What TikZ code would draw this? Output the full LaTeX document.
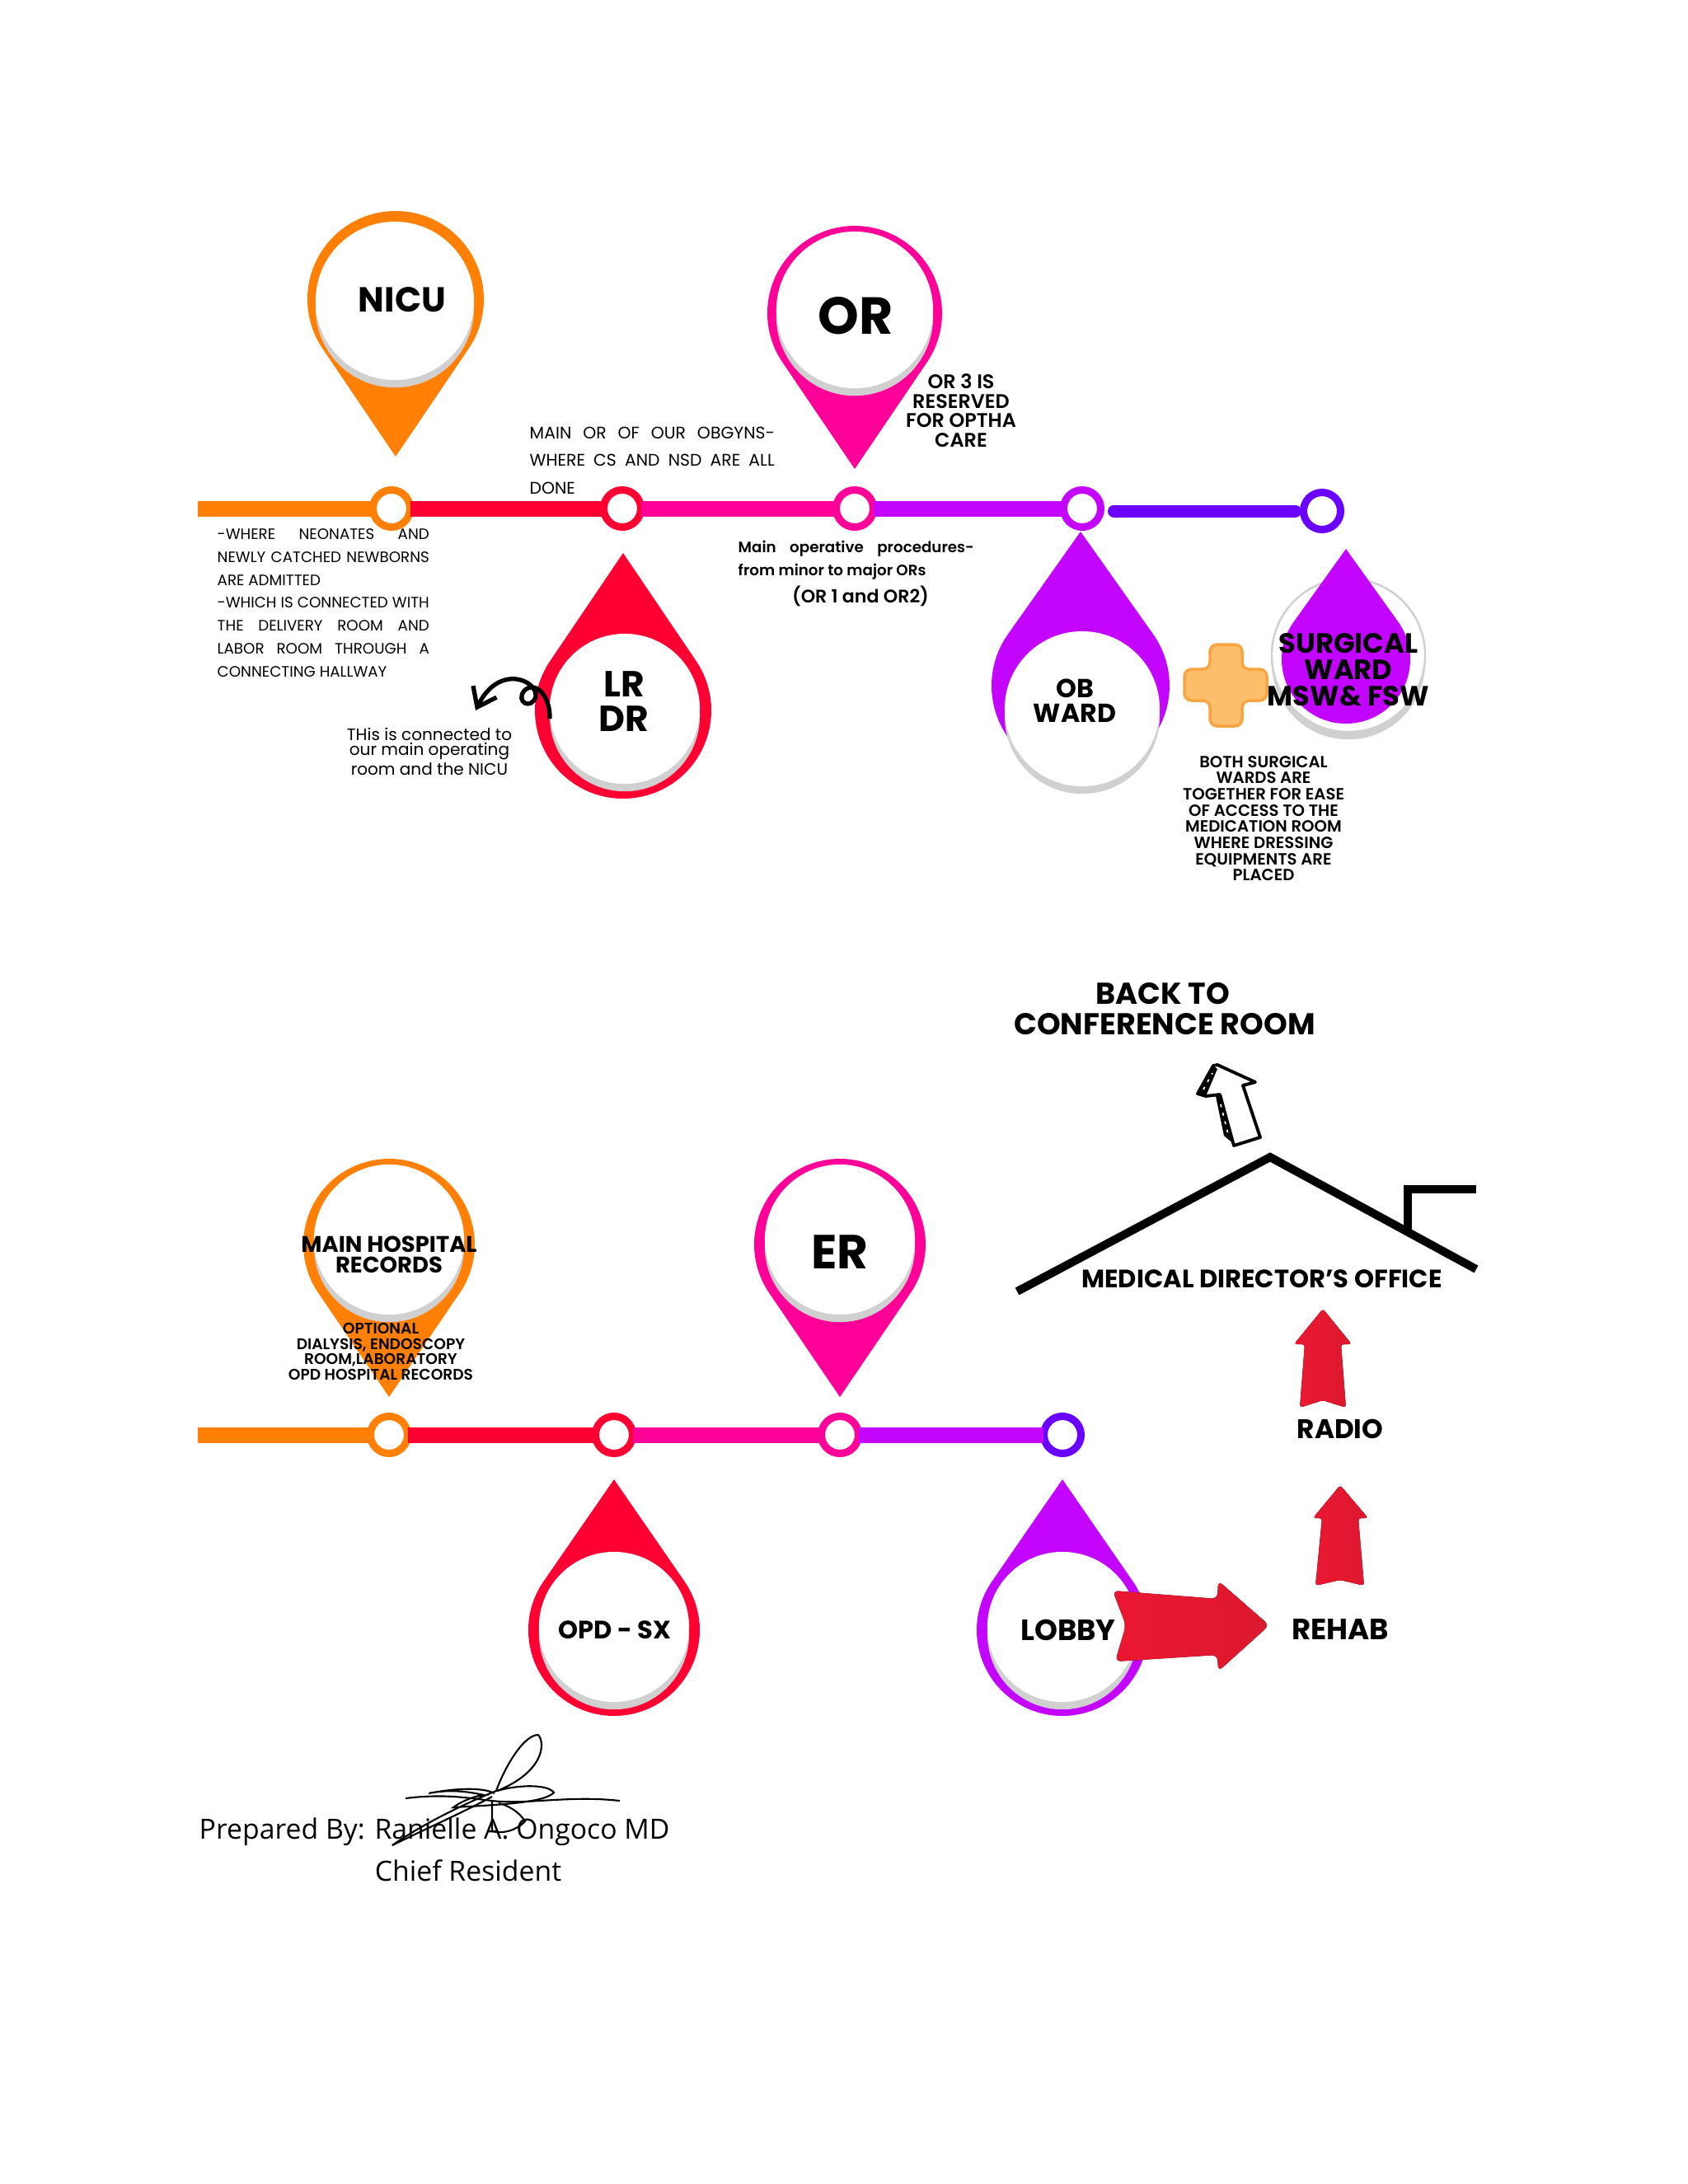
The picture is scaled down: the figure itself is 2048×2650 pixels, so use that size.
\documentclass[tikz,border=0pt]{standalone}
\usepackage{fontspec}
\usepackage{xcolor}
\usepackage{tikz}
\usetikzlibrary{arrows.meta, shadows}
\setmainfont{Poppins}
\newfontfamily\signfont{Open Sans}
\newfontfamily\semifont{Poppins SemiBold}
\definecolor{pinorange}{RGB}{255,128,5}
\definecolor{pinred}{RGB}{255,0,51}
\definecolor{pinmagenta}{RGB}{255,0,153}
\definecolor{pinpurple}{RGB}{195,5,255}
\definecolor{pinviolet}{RGB}{106,0,255}
\definecolor{facegrey}{RGB}{208,208,208}
\definecolor{arrowred}{RGB}{232,26,48}
\definecolor{crossfill}{RGB}{253,190,107}
\definecolor{crossline}{RGB}{248,165,65}
\newcommand{\boldsize}[2]{\fontsize{#1}{#2}\selectfont\bfseries}
\newcommand{\semisize}[2]{\fontsize{#1}{#2}\selectfont\semifont}
\newcommand{\plainsize}[2]{\fontsize{#1}{#2}\selectfont}
% cx, cy, radius, tip distance, direction of tip, colour
\newcommand{\pinshape}[6]{%
  \pgfmathsetmacro{\pinang}{acos(#3/#4)}
  \fill[#6] (#1,#2) ++(#5+\pinang:#3*0.01cm)
    arc[start angle=#5+\pinang, delta angle=360-2*\pinang, radius=#3*0.01cm]
    -- ([shift={(#5:#4*0.01cm)}]#1,#2) -- cycle;
}
\tikzset{
  ringnode/.style={circle, draw=#1, fill=white, line width=0.09cm,
    minimum size=0.45cm, inner sep=0pt, outer sep=0pt},
  track/.style={line width=0.19cm, color=#1},
  faceplate/.style={circle, fill=white, minimum size=#1*0.02cm, inner sep=0pt,
    drop shadow={shadow xshift=0pt, shadow yshift=-2.6pt, fill=facegrey, opacity=1}},
  pinlabel/.style={align=center, inner sep=0pt, text=black},
  notejust/.style={anchor=north west, align=justify, inner sep=0pt},
  redarrow/.style={left color=arrowred!90!pinred, right color=arrowred!95!black},
  roofline/.style={line width=0.1cm, color=black},
  signline/.style={line width=0.6pt, color=black}
}
\begin{document}
\begin{tikzpicture}[x=0.01cm, y=-0.01cm]
  \useasboundingbox (0,0) rectangle (2048,2650);

  % upper route
  \coordinate (tstart) at (240,617);
  \node[ringnode=pinorange] (t1) at (475,617) {};
  \node[ringnode=pinred] (t2) at (755,617) {};
  \node[ringnode=pinmagenta] (t3) at (1037,617) {};
  \node[ringnode=pinpurple] (t4) at (1313,617) {};
  \node[ringnode=pinviolet] (t5) at (1604,620) {};
  \draw[track=pinorange] (tstart) -- (t1);
  \draw[track=pinred] (t1) -- (t2);
  \draw[track=pinmagenta] (t2) -- (t3);
  \draw[track=pinpurple] (t3) -- (t4);
  \draw[track=pinviolet, line width=0.15cm, line cap=round] ([xshift=0.16cm]t4.east |- t5) -- ([xshift=-0.1cm]t5.west);

  \pinshape{480}{363}{107}{191}{-90}{pinorange}
  \node[faceplate=96] (nicuface) at (479,365) {};
  \node[pinlabel, font=\boldsize{12}{14}] (nicu) at (488,364) {NICU};

  \pinshape{1037}{380}{106}{189}{-90}{pinmagenta}
  \node[faceplate=95] (orface) at (1037,376) {};
  \node[pinlabel, font=\boldsize{18}{20}] (ortext) at (1038,383) {OR};

  \pinshape{756}{862}{107}{191}{90}{pinred}
  \node[faceplate=91] (lrface) at (758,860) {};
  \node[pinlabel, font=\boldsize{12.5}{12}] (lrdr) at (757,851) {LR\\DR};

  \pinshape{1311}{832}{108}{187}{90}{pinpurple}
  \node[faceplate=94] (obface) at (1313,860) {};
  \node[pinlabel, font=\boldsize{9}{8.6}] (obward) at (1304,850) {OB\\WARD};

  \node[faceplate=93, draw=facegrey, line width=0.7pt] (swface) at (1636,795) {};
  \pinshape{1633}{800}{78}{134}{90}{pinpurple}
  \node[pinlabel, font=\boldsize{9.6}{9.1}] (swtext) at (1636,813) {SURGICAL\\WARD\\MSW\& FSW};

  % plus sign between the wards
  \draw[fill=crossfill, draw=crossline, line width=1pt, rounded corners=2.5pt]
    (1468,782) -- (1468,812) -- (1437,812) -- (1437,850) -- (1468,850) -- (1468,881)
    -- (1507,881) -- (1507,850) -- (1537,850) -- (1537,812) -- (1507,812) -- (1507,782) -- cycle;

  \node[pinlabel, font=\semisize{6.8}{6.7}] (orthree) at (1166,498) {OR 3 IS\\RESERVED\\FOR OPTHA\\CARE};
  \node[notejust, text width=2.97cm, font=\plainsize{5.8}{9.6}] (obgyn) at (642,517)
    {MAIN OR OF OUR OBGYNS-\linebreak WHERE CS AND NSD ARE ALL\linebreak DONE};
  \node[notejust, text width=2.57cm, font=\plainsize{5.2}{7.9}] (nicunote) at (263,641)
    {-WHERE NEONATES AND\linebreak NEWLY CATCHED NEWBORNS\linebreak ARE ADMITTED\\
     -WHICH IS CONNECTED WITH\linebreak THE DELIVERY ROOM AND\linebreak LABOR ROOM THROUGH A\linebreak CONNECTING HALLWAY};
  \node[notejust, text width=2.86cm, font=\semisize{5.2}{8.2}] (mainop) at (895,655)
    {Main operative procedures-\linebreak from minor to major ORs};
  \node[pinlabel, font=\semisize{6.3}{7}] (ormajor) at (1044,723) {(OR 1 and OR2)};
  \node[pinlabel, font=\plainsize{5.7}{5.3}] (lrnote) at (521,912) {THis is connected to\\our main operating\\room and the NICU};
  \node[pinlabel, font=\semisize{5.6}{5.6}] (swnote) at (1533,993)
    {BOTH SURGICAL\\WARDS ARE\\TOGETHER FOR EASE\\OF ACCESS TO THE\\MEDICATION ROOM\\WHERE DRESSING\\EQUIPMENTS ARE\\PLACED};

  % curl from the delivery room
  \draw[line width=1.5pt, -{Straight Barb[length=6pt, width=9pt]}]
    (667,872) .. controls (668,845) and (650,825) .. (636,838)
    .. controls (625,852) and (645,862) .. (650,845)
    .. controls (652,825) and (605,805) .. (577,862);

  % lower route
  \coordinate (bstart) at (240,1741);
  \node[ringnode=pinorange] (b1) at (472,1741) {};
  \node[ringnode=pinred] (b2) at (745,1741) {};
  \node[ringnode=pinmagenta] (b3) at (1019,1741) {};
  \node[ringnode=pinviolet] (b4) at (1289,1741) {};
  \draw[track=pinorange] (bstart) -- (b1);
  \draw[track=pinred] (b1) -- (b2);
  \draw[track=pinmagenta] (b2) -- (b3);
  \draw[track=pinpurple] (b3) -- (b4);

  \pinshape{472}{1510}{104}{185}{-90}{pinorange}
  \node[faceplate=91] (recface) at (472,1504) {};
  \node[pinlabel, font=\boldsize{7.8}{7.2}] (records) at (472,1522) {MAIN HOSPITAL\\RECORDS};
  \node[pinlabel, font=\semisize{5.3}{5.3}] (optional) at (462,1640)
    {OPTIONAL\\DIALYSIS, ENDOSCOPY\\ROOM,LABORATORY\\OPD HOSPITAL RECORDS};

  \pinshape{1019}{1510}{104}{185}{-90}{pinmagenta}
  \node[faceplate=91] (erface) at (1019,1504) {};
  \node[pinlabel, font=\boldsize{16.5}{18}] (ertext) at (1019,1519) {ER};

  \pinshape{745}{1978}{104}{183}{90}{pinred}
  \node[faceplate=91] (opdface) at (745,1974) {};
  \node[pinlabel, font=\boldsize{8.7}{10}] (opd) at (746,1978) {OPD - SX};

  \pinshape{1289}{1978}{104}{183}{90}{pinpurple}
  \node[faceplate=91] (lobbyface) at (1289,1974) {};
  \node[pinlabel, font=\boldsize{10.1}{10}] (lobby) at (1296,1978) {LOBBY};

  \fill[redarrow, rounded corners=2pt] (1350,1930) -- (1477,1940) -- (1478,1918) -- (1540,1972)
    -- (1478,2028) -- (1477,2008) -- (1353,2016) -- (1366,1972) -- cycle;
  \fill[redarrow, rounded corners=1pt] (1605,1588) -- (1640,1631) -- (1627,1631) -- (1633,1708)
    -- (1605,1699) -- (1577,1708) -- (1583,1631) -- (1570,1631) -- cycle;
  \fill[redarrow, rounded corners=1pt] (1626,1802) -- (1660,1842) -- (1648,1842) -- (1655,1924)
    -- (1626,1917) -- (1596,1924) -- (1604,1842) -- (1593,1842) -- cycle;

  \node[pinlabel, font=\boldsize{10.1}{10}] (rehab) at (1626,1977) {REHAB};
  \node[pinlabel, font=\boldsize{9.3}{10}] (radio) at (1626,1734) {RADIO};
  \node[pinlabel, font=\boldsize{8.7}{10}] (director) at (1531,1552) {MEDICAL DIRECTOR’S OFFICE};
  \node[pinlabel, font=\boldsize{10.4}{10.5}] (backroom) at (1413,1224) {BACK TO\hspace*{1.2pt}\\CONFERENCE ROOM};

  % roof and chimney
  \draw[roofline] (1234,1567) -- (1541,1404) -- (1791,1540);
  \draw[roofline] (1708,1494) -- (1708,1443) -- (1791,1443);

  % sketched arrow on the roof
  \draw[fill=white, line width=1.1pt, line join=round] (1477,1292) -- (1523,1313) -- (1508,1317) -- (1529,1380)
    -- (1497,1390) -- (1480,1328) -- (1463,1330) -- (1453,1327) -- (1472,1293) -- cycle;
  \fill (1453,1327) -- (1472,1293) -- (1477,1297) -- (1463,1330) -- cycle;
  \fill (1475,1330) -- (1482,1328) -- (1497,1388) -- (1485,1378) -- cycle;
  \draw[white, line width=0.5pt, dash pattern=on 1pt off 2pt] (1460,1322) -- (1471,1302);
  \draw[white, line width=0.5pt, dash pattern=on 1pt off 2pt] (1481,1340) -- (1491,1380);

  % signature
  \draw[signline] (476,2239) .. controls (510,2215) and (560,2190) .. (602,2173)
    .. controls (612,2145) and (635,2105) .. (653,2105)
    .. controls (662,2115) and (660,2150) .. (603,2173)
    .. controls (630,2165) and (665,2165) .. (672,2175)
    .. controls (660,2188) and (600,2190) .. (550,2193)
    .. controls (560,2185) and (580,2178) .. (587,2178)
    .. controls (560,2172) and (540,2172) .. (520,2176)
    .. controls (550,2170) and (585,2168) .. (600,2176);
  \draw[signline] (476,2239) .. controls (510,2222) and (560,2200) .. (597,2180);
  \draw[signline] (492,2182) .. controls (540,2176) and (570,2182) .. (597,2185)
    .. controls (640,2190) and (690,2178) .. (752,2185);
  \draw[signline] (597,2186) -- (597,2222)
    .. controls (610,2225) and (625,2222) .. (637,2210)
    .. controls (630,2198) and (615,2190) .. (605,2188);

  \node[anchor=west, inner sep=0pt, font=\signfont\plainsize{9.6}{11}] (prepared) at (241,2223) {Prepared By: Ranielle A. Ongoco MD};
  \node[inner sep=0pt, font=\signfont\plainsize{9.6}{11}] (chief) at (568,2270) {Chief Resident};
\end{tikzpicture}
\end{document}
